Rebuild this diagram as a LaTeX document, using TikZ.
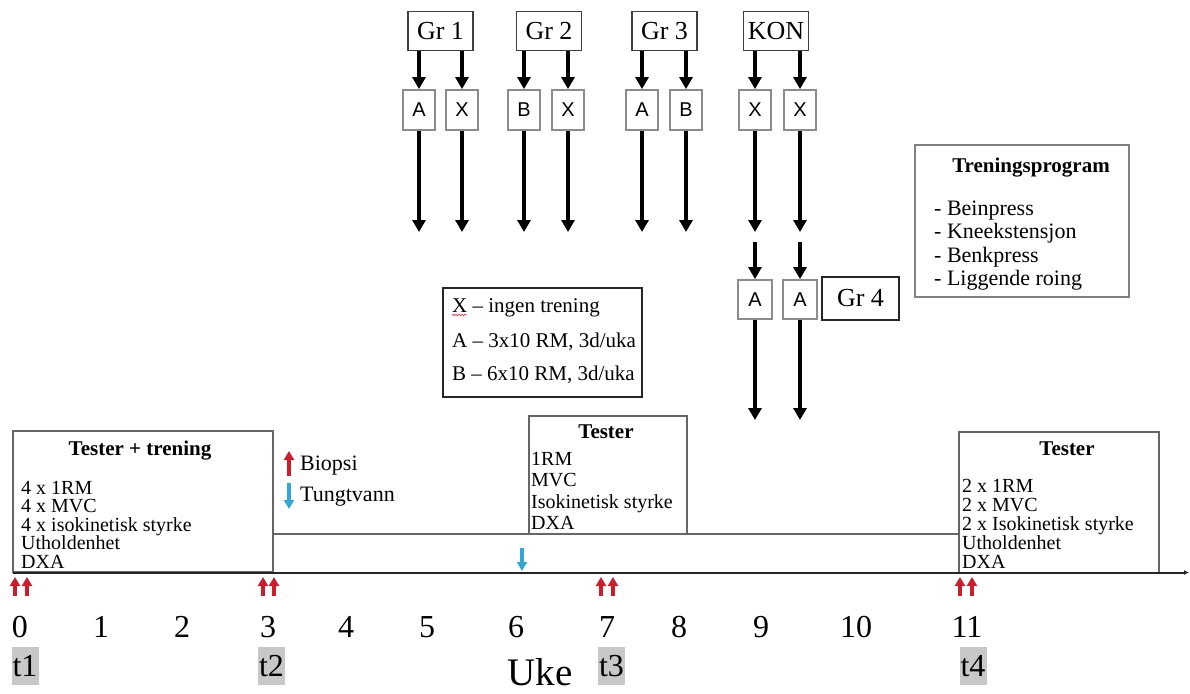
\documentclass[tikz,border=0pt]{standalone}
\usepackage{fontspec}
\setmainfont{Liberation Serif}
\newfontfamily\arialf{Liberation Sans}
\usetikzlibrary{arrows.meta,decorations.pathmorphing}
\definecolor{bioRed}{RGB}{200,30,45}
\definecolor{waterBlue}{RGB}{55,165,210}
\definecolor{tGrey}{RGB}{200,200,200}
\tikzset{
  grbox/.style={draw=black!75, line width=1.3pt, minimum width=65pt, minimum height=39pt, inner sep=0pt, font=\fontsize{26}{28}\selectfont},
  letbox/.style={draw=black!45, line width=1.8pt, minimum width=32pt, minimum height=40pt, inner sep=0pt, font=\arialf\fontsize{20}{22}\selectfont},
  arr/.style={line width=3.2pt, -{Triangle[width=13pt,length=12pt]}},
  infobox/.style={draw=black!60, line width=1.3pt},
  body/.style={anchor=base west, inner sep=0pt, font=\fontsize{20}{20}\selectfont},
  ttl/.style={anchor=base, inner sep=0pt, font=\bfseries\fontsize{21}{21}\selectfont},
  num/.style={anchor=base, inner sep=0pt, font=\fontsize{32}{32}\selectfont},
  tlab/.style={fill=tGrey, minimum width=27pt, minimum height=38pt, inner sep=0pt, font=\fontsize{32}{32}\selectfont},
  redarr/.style={draw=bioRed, line width=3.6pt, -{Triangle[width=10pt,length=9pt]}},
  bluearr/.style={draw=waterBlue, line width=3.6pt, -{Triangle[width=10pt,length=9pt]}}
}
\begin{document}
\begin{tikzpicture}[x=1pt,y=-1pt]
\useasboundingbox (0,0) rectangle (1190,693);

% group boxes
\node[grbox] (g1) at (440.5,31) {Gr 1};
\node[grbox] (g2) at (549,31) {Gr 2};
\node[grbox] (g3) at (664.5,31) {Gr 3};
\node[grbox] (kon) at (776,31) {KON};

% letter boxes
\node[letbox] (a1) at (419,110) {A};
\node[letbox] (x1) at (462,110) {X};
\node[letbox] (b2) at (524,110) {B};
\node[letbox] (x2) at (568,110) {X};
\node[letbox] (a3) at (642,110) {A};
\node[letbox] (b3) at (686,110) {B};
\node[letbox] (xk1) at (755,110) {X};
\node[letbox] (xk2) at (800,110) {X};

\coordinate (endrow) at (0,232);
\coordinate (restart) at (0,242);
\coordinate (endrowB) at (0,420);

\foreach \g/\b in {g1/a1,g1/x1,g2/b2,g2/x2,g3/a3,g3/b3,kon/xk1,kon/xk2}{
  \draw[arr] (\g.south -| \b.north) -- (\b.north);
}
\foreach \b in {a1,x1,b2,x2,a3,b3,xk1,xk2}{
  \draw[arr] (\b.south) -- (\b.south |- endrow);
}

% group 4
\node[letbox, minimum width=34pt, minimum height=39pt] (ak1) at (755,299.5) {A};
\node[letbox, minimum width=34pt, minimum height=39pt] (ak2) at (800,299.5) {A};
\node[draw=black!85, line width=1.3pt, minimum width=77pt, minimum height=43pt, inner sep=0pt, font=\fontsize{26}{28}\selectfont] (g4) at (860.5,298.5) {Gr 4};
\draw[arr] (xk1.south |- restart) -- (ak1.north);
\draw[arr] (xk2.south |- restart) -- (ak2.north);
\draw[arr] (ak1.south) -- (ak1.south |- endrowB);
\draw[arr] (ak2.south) -- (ak2.south |- endrowB);

% Treningsprogram
\node[infobox, draw=black!50, minimum width=214pt, minimum height=152pt, inner sep=0pt] (prog) at (1022,221) {};
\node[ttl] (progt) at (1031,172) {Treningsprogram};
\node[body, font=\fontsize{22}{22}\selectfont] (p1) at (934,215) {- Beinpress};
\node[body, font=\fontsize{22}{22}\selectfont] (p2) at (934,238.5) {- Kneekstensjon};
\node[body, font=\fontsize{22}{22}\selectfont] (p3) at (934,262) {- Benkpress};
\node[body, font=\fontsize{22}{22}\selectfont] (p4) at (934,285.5) {- Liggende roing};

% legend box
\node[draw=black!85, line width=1.2pt, minimum width=199pt, minimum height=109pt, inner sep=0pt] (leg) at (542.5,342.5) {};
\node[body, font=\fontsize{21}{21}\selectfont] (l1) at (452,312) {X -- ingen trening};
\node[body, font=\fontsize{21}{21}\selectfont] (l2) at (452,347) {A -- 3x10 RM, 3d/uka};
\node[body, font=\fontsize{21}{21}\selectfont] (l3) at (452,380) {B -- 6x10 RM, 3d/uka};
\draw[bioRed!80, line width=0.7pt, decorate, decoration={snake, amplitude=0.9pt, segment length=3pt}] (l1.base west) ++(0,3) -- ++(15,0);

% timeline boxes
\node[infobox, minimum width=260pt, minimum height=141pt, inner sep=0pt] (box1) at (143,501.5) {};
\node[ttl] (box1t) at (140,455) {Tester + trening};
\node[body] at (21,494) {4 x 1RM};
\node[body] at (21,512.5) {4 x MVC};
\node[body] at (21,531) {4 x isokinetisk styrke};
\node[body] at (21,549.5) {Utholdenhet};
\node[body] at (21,568) {DXA};

\node[infobox, minimum width=158pt, minimum height=118pt, inner sep=0pt] (box2) at (608,475) {};
\node[ttl] (box2t) at (606,438) {Tester};
\node[body] at (531,465) {1RM};
\node[body] at (531,486.5) {MVC};
\node[body] at (531,508) {Isokinetisk styrke};
\node[body] at (531,529.5) {DXA};

\node[infobox, minimum width=200pt, minimum height=141pt, inner sep=0pt] (box3) at (1059,502.5) {};
\node[ttl] (box3t) at (1067,455) {Tester};
\node[body] at (962,492) {2 x 1RM};
\node[body] at (962,511) {2 x MVC};
\node[body] at (962,530) {2 x Isokinetisk styrke};
\node[body] at (962,549) {Utholdenhet};
\node[body] at (962,568) {DXA};

% legend arrows
\draw[redarr] (289,476) -- (289,451);
\node[body, font=\fontsize{22}{22}\selectfont] (bio) at (300,470) {Biopsi};
\draw[bluearr] (289,483) -- (289,509);
\node[body, font=\fontsize{22}{22}\selectfont] (tung) at (300,501) {Tungtvann};

% lines
\coordinate (upper) at (0,534);
\draw[black!60, line width=1.3pt] (box1.east |- upper) -- (box3.west |- upper);
\coordinate (axstart) at (13,572.5);
\coordinate (axend) at (1189,572.5);
\draw[black!85, line width=2pt, -{Latex[length=5pt,width=5pt]}] (axstart) -- (axend);

% marker arrows
\foreach \x in {15,27,263,274,601,613,960,972}{
  \draw[redarr] (\x,596) -- (\x,577);
}
\draw[bluearr] (522,548) -- (522,571);

% week numbers
\foreach \x/\n in {20/0,101/1,182/2,268/3,346/4,427/5,516/6,607/7,679/8,761/9,856/10,967/11}{
  \node[num] at (\x,637) {\n};
}
\node[tlab] (t1) at (25,666) {t1};
\node[tlab] (t2) at (271.5,666) {t2};
\node[tlab] (t3) at (611.5,666) {t3};
\node[tlab] (t4) at (973,666) {t4};
\node[anchor=base, inner sep=0pt, font=\fontsize{39}{39}\selectfont] (uke) at (540,685) {Uke};
\end{tikzpicture}
\end{document}
